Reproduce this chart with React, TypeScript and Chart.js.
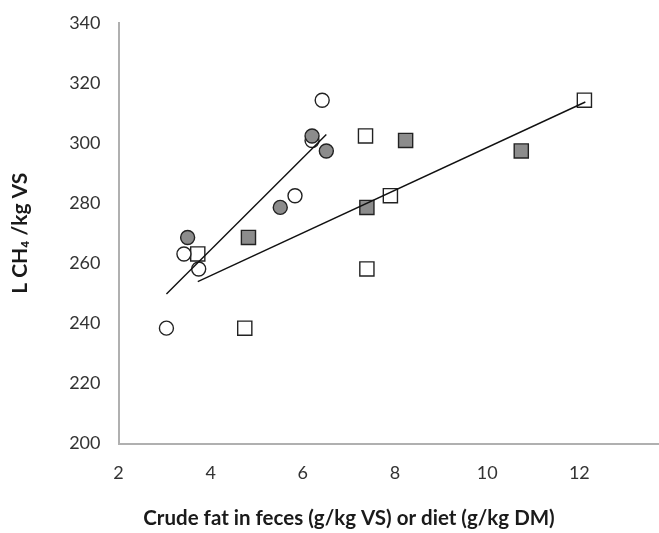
import React, { useEffect, useRef } from "react";
import { Chart, registerables } from "chart.js";

Chart.register(...registerables);

// Open circles: crude fat in feces
const fecesOpenX = [6.42, 6.2, 5.83, 3.42, 3.74, 3.04];
const fecesOpenY = [314.3, 300.9, 282.5, 263.1, 258.1, 238.4];
// Grey circles
const fecesGreyX = [6.2, 6.51, 5.51, 3.5];
const fecesGreyY = [302.4, 297.4, 278.6, 268.6];
// Open squares: crude fat in diet
const dietOpenX = [12.11, 7.36, 7.9, 3.72, 7.39, 4.74];
const dietOpenY = [314.3, 302.4, 282.5, 263.1, 258.1, 238.4];
// Grey squares
const dietGreyX = [8.23, 10.74, 7.39, 4.82];
const dietGreyY = [300.9, 297.4, 278.6, 268.6];
// Trend lines (end points)
const fecesTrendX = [3.04, 6.51];
const fecesTrendY = [249.8, 302.9];
const dietTrendX = [3.72, 12.13];
const dietTrendY = [253.9, 313.7];

const yTicks = [200, 220, 240, 260, 280, 300, 320, 340];
const xTicks = [2, 4, 6, 8, 10, 12];

const xTitle = "Crude fat in feces (g/kg VS) or diet (g/kg DM)";
const yTitle = "L CH\u2084 /kg VS";

const pts = (xs: number[], ys: number[]) => xs.map((x, i) => ({ x, y: ys[i] }));

export default function App() {
  const ref = useRef<HTMLCanvasElement | null>(null);
  useEffect(() => {
    if (!ref.current) return;
    const font = "Lato";
    const xTitlePlugin = {
      id: "xTitle",
      afterDraw(chart: any) {
        const ctx = chart.ctx;
        ctx.save();
        ctx.font = `bold 20.5px ${font}`;
        ctx.fillStyle = "#1a1a1a";
        ctx.textAlign = "center";
        ctx.textBaseline = "middle";
        ctx.fillText(xTitle, 349, 518);
        ctx.restore();
      },
    };
    const chart = new Chart(ref.current, {
      type: "scatter",
      data: {
        datasets: [
          {
            data: pts(fecesTrendX, fecesTrendY),
            showLine: true,
            borderColor: "#111",
            borderWidth: 1.4,
            pointRadius: 0,
            order: 0,
          },
          {
            data: pts(dietTrendX, dietTrendY),
            showLine: true,
            borderColor: "#111",
            borderWidth: 1.4,
            pointRadius: 0,
            order: 0,
          },
          {
            data: pts(fecesGreyX, fecesGreyY),
            pointStyle: "circle",
            pointRadius: 7,
            backgroundColor: "#8c8c8c",
            borderColor: "#222",
            borderWidth: 1.4,
            order: 1,
          },
          {
            data: pts(fecesOpenX, fecesOpenY),
            pointStyle: "circle",
            pointRadius: 7,
            backgroundColor: "#ffffff",
            borderColor: "#222",
            borderWidth: 1.4,
            order: 2,
          },
          {
            data: pts(dietGreyX, dietGreyY),
            pointStyle: "rect",
            pointRadius: 10,
            backgroundColor: "#8c8c8c",
            borderColor: "#222",
            borderWidth: 1.4,
            order: 3,
          },
          {
            data: pts(dietOpenX, dietOpenY),
            pointStyle: "rect",
            pointRadius: 10,
            backgroundColor: "#ffffff",
            borderColor: "#222",
            borderWidth: 1.4,
            order: 4,
          },
        ],
      },
      options: {
        responsive: false,
        animation: false,
        layout: { padding: { left: 0, right: 0, top: 23, bottom: 0 } },
        plugins: { legend: { display: false }, tooltip: { enabled: false } },
        scales: {
          x: {
            type: "linear",
            min: xTicks[0],
            max: 13.72,
            afterFit: (s: any) => {
              s.height = 89.5;
              s.paddingLeft = 0;
              s.paddingRight = 0;
            },
            afterBuildTicks: (s: any) => {
              s.ticks = xTicks.map((v) => ({ value: v }));
            },
            grid: { display: false, drawTicks: false },
            border: { display: true, color: "#b0b0b0", width: 2 },
            ticks: {
              padding: 19,
              color: "#333",
              font: { family: font, size: 18 },
              maxRotation: 0,
            },
          },
          y: {
            type: "linear",
            min: yTicks[0],
            max: yTicks[yTicks.length - 1],
            afterFit: (s: any) => {
              s.width = 118.5;
              s.paddingTop = 0;
              s.paddingBottom = 0;
            },
            afterBuildTicks: (s: any) => {
              s.ticks = yTicks.map((v) => ({ value: v }));
            },
            grid: { display: false, drawTicks: false },
            border: { display: true, color: "#b0b0b0", width: 2 },
            ticks: {
              padding: 18,
              color: "#333",
              font: { family: font, size: 18 },
            },
            title: {
              display: true,
              text: yTitle,
              color: "#1a1a1a",
              font: { family: font, size: 21, weight: "bold" },
              padding: { top: 8, bottom: 0 },
            },
          },
        },
      },
      plugins: [xTitlePlugin],
    });
    return () => chart.destroy();
  }, []);
  return (
    <div
      style={{
        position: "absolute",
        left: 0,
        top: 0,
        width: 659,
        height: 533,
        overflow: "hidden",
        background: "#fff",
      }}
    >
      <canvas ref={ref} width={670} height={533} style={{ display: "block" }} />
    </div>
  );
}
